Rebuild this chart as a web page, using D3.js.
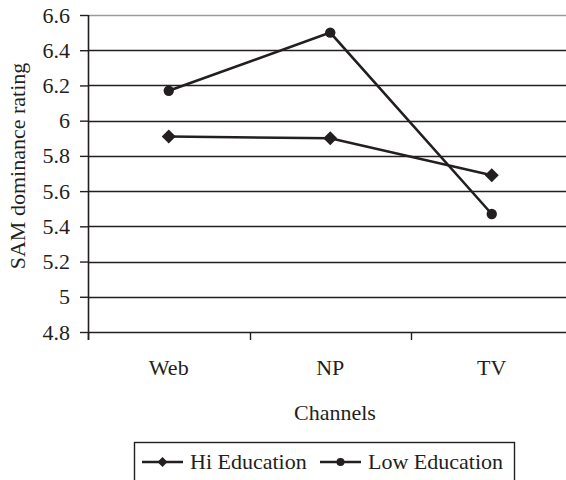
<!DOCTYPE html>
<html>
<head>
<meta charset="utf-8">
<script src="https://cdn.jsdelivr.net/npm/d3@7"></script>
<style>
  html, body { margin: 0; padding: 0; background: #fff; }
  svg text { font-family: "Liberation Serif", "Times New Roman", Times, serif !important; }
</style>
</head>
<body>
<svg id="chart" width="566" height="480"></svg>
<script>
// Channels on the x axis
const channels = ["Web", "NP", "TV"];
// Mean SAM dominance rating per channel, by education group
const hiEducation = [5.91, 5.90, 5.69];
const lowEducation = [6.17, 6.50, 5.47];
const seriesNames = ["Hi Education", "Low Education"];
// y axis ticks
const yTicks = [4.8, 5, 5.2, 5.4, 5.6, 5.8, 6, 6.2, 6.4, 6.6];

const ink = "#231f20";
const serif = "'Liberation Serif', 'Times New Roman', Times, serif";
const svg = d3.select("#chart");

const plot = { left: 88, top: 15, bottom: 332, right: 572.5 };

const x = d3.scaleBand().domain(channels).range([plot.left, plot.right]);
const y = d3.scaleLinear().domain([4.8, 6.6]).range([plot.bottom, plot.top]);

// horizontal gridlines
svg.append("g")
  .selectAll("line")
  .data(yTicks)
  .join("line")
  .attr("x1", plot.left).attr("x2", 566)
  .attr("y1", d => Math.round(y(d)) + 0.5).attr("y2", d => Math.round(y(d)) + 0.5)
  .attr("stroke", d => d === 6.6 ? "#9a9a9a" : ink)
  .attr("stroke-width", 1.4);

// y axis
const yAxis = svg.append("g")
  .attr("transform", `translate(${plot.left},0)`)
  .call(d3.axisLeft(y).tickValues(yTicks).tickSize(8).tickPadding(10)
    .tickFormat(d => d3.format("")(+d.toFixed(1))));
yAxis.attr("font-family", null).attr("font-size", null);
yAxis.select(".domain").remove();
yAxis.selectAll(".tick line").attr("stroke", ink).attr("stroke-width", 1.4);
yAxis.selectAll(".tick text").attr("fill", ink)
  .style("font-size", "22px").style("font-family", serif);
svg.append("line")
  .attr("x1", plot.left + 0.5).attr("x2", plot.left + 0.5)
  .attr("y1", plot.top).attr("y2", plot.bottom + 8)
  .attr("stroke", ink).attr("stroke-width", 1.6);

// x axis: boundary ticks between categories
const boundaries = channels.map(c => x(c)).concat([plot.right]);
svg.append("g").selectAll("line")
  .data(boundaries)
  .join("line")
  .attr("x1", d => Math.round(d) + 0.5).attr("x2", d => Math.round(d) + 0.5)
  .attr("y1", plot.bottom).attr("y2", plot.bottom + 8)
  .attr("stroke", ink).attr("stroke-width", 1.4);

function addText(sel) {
  return sel.style("font-family", serif).style("font-size", "22px").attr("fill", ink);
}

addText(svg.append("g").selectAll("text")
  .data(channels)
  .join("text")
  .attr("x", d => x(d) + x.bandwidth() / 2)
  .attr("y", 375)
  .attr("text-anchor", "middle")
  .text(d => d));

// axis titles
addText(svg.append("text")
  .attr("x", 335).attr("y", 420)
  .attr("text-anchor", "middle")
  .text("Channels"));

addText(svg.append("text")
  .attr("transform", "translate(25,166) rotate(-90)")
  .attr("text-anchor", "middle")
  .text("SAM dominance rating"));

// markers: a square turned 45 degrees, and a filled circle
function markerPath(kind, r) {
  if (kind === "diamond") return `M0,${-r}L${r},0L0,${r}L${-r},0Z`;
  return d3.symbol().type(d3.symbolCircle).size(Math.PI * r * r)();
}

// series lines
const cx = d => x(d) + x.bandwidth() / 2;
const line = d3.line().x(d => cx(d.c)).y(d => y(d.v));
const series = [
  { name: seriesNames[0], values: hiEducation, marker: "diamond", r: 7 },
  { name: seriesNames[1], values: lowEducation, marker: "circle", r: 5.2 }
];

series.forEach(s => {
  const pts = channels.map((c, i) => ({ c, v: s.values[i] }));
  svg.append("path")
    .datum(pts)
    .attr("d", line)
    .attr("fill", "none")
    .attr("stroke", ink)
    .attr("stroke-width", 2.6);
  svg.append("g").selectAll("path")
    .data(pts)
    .join("path")
    .attr("transform", d => `translate(${cx(d.c)},${y(d.v)})`)
    .attr("d", markerPath(s.marker, s.r))
    .attr("fill", ink);
});

// legend
const legend = svg.append("g");
legend.append("rect")
  .attr("x", 134.5).attr("y", 442.5)
  .attr("width", 380).attr("height", 40)
  .attr("fill", "#fff").attr("stroke", ink).attr("stroke-width", 1.4);

const legendItems = [
  { name: seriesNames[0], x0: 142, x1: 183, tx: 190, marker: "diamond", r: 5 },
  { name: seriesNames[1], x0: 320, x1: 361, tx: 368, marker: "circle", r: 4 }
];
const ly = 462;
legendItems.forEach(it => {
  legend.append("line")
    .attr("x1", it.x0).attr("x2", it.x1)
    .attr("y1", ly).attr("y2", ly)
    .attr("stroke", ink).attr("stroke-width", 2.6);
  legend.append("path")
    .attr("transform", `translate(${(it.x0 + it.x1) / 2},${ly})`)
    .attr("d", markerPath(it.marker, it.r))
    .attr("fill", ink);
  addText(legend.append("text")
    .attr("x", it.tx).attr("y", ly + 7)
    .text(it.name));
});
</script>
</body>
</html>
